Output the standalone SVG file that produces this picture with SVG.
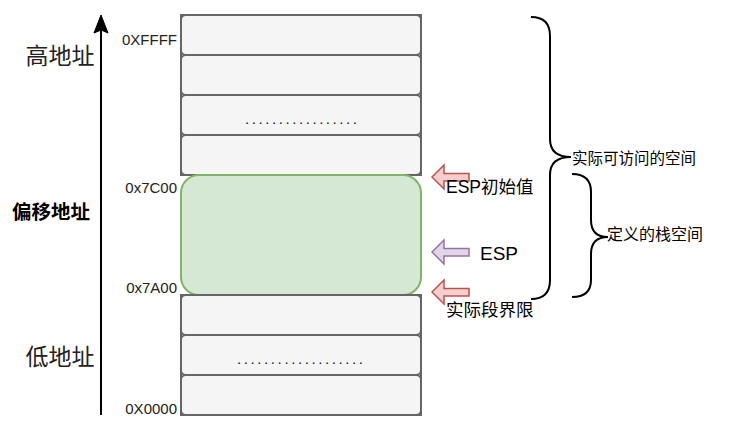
<svg xmlns="http://www.w3.org/2000/svg" width="742" height="432" viewBox="0 0 742 432">
<style>
.box{fill:#f5f5f5;stroke:#666666;stroke-width:2}
.green{fill:#d5e8d4;stroke:#82b366;stroke-width:2}
.t{font-family:"Liberation Sans","Noto Sans CJK SC",sans-serif;fill:#000}
.addr{font-size:15px;text-anchor:end;fill:#222}
.big{font-size:23px;text-anchor:middle;fill:#222}
.dots{font-size:15px;fill:#222}
.red{fill:#f8cecc;stroke:#b85450;stroke-width:1.5}
.purple{fill:#e1d5e7;stroke:#9673a6;stroke-width:1.5}
.brace{fill:none;stroke:#000;stroke-width:2}
</style>
<rect width="742" height="432" fill="#ffffff"/>

<g id="axis">
  <line x1="101" y1="415" x2="101" y2="30" stroke="#000" stroke-width="2"/>
  <polygon points="101,15 108,33 101,30 94,33" fill="#000" stroke="#000" stroke-width="1"/>
</g>

<g id="labels-left">
  <text class="t big" x="60" y="64">高地址</text>
  <text class="t" x="51" y="219" font-size="19.5" font-weight="bold" text-anchor="middle">偏移地址</text>
  <text class="t big" x="60" y="365">低地址</text>
</g>

<g id="addresses">
  <text class="t addr" x="177" y="45">0XFFFF</text>
  <text class="t addr" x="177" y="193">0x7C00</text>
  <text class="t addr" x="177" y="293">0x7A00</text>
  <text class="t addr" x="177" y="414">0X0000</text>
</g>

<g id="upper-stack">
  <rect class="box" x="181" y="15" width="240" height="160"/>
  <rect class="box" x="181" y="15" width="240" height="40" rx="5"/>
  <rect class="box" x="181" y="55" width="240" height="40" rx="5"/>
  <rect class="box" x="181" y="95" width="240" height="40" rx="5"/>
  <text class="t dots" x="245" y="124" textLength="112" lengthAdjust="spacing">.................</text>
  <rect class="box" x="181" y="135" width="240" height="40" rx="5"/>
</g>

<g id="stack-space">
  <rect class="green" x="181" y="175" width="240" height="120" rx="18"/>
</g>

<g id="lower-stack">
  <rect class="box" x="181" y="295" width="240" height="120"/>
  <rect class="box" x="181" y="295" width="240" height="40" rx="5"/>
  <rect class="box" x="181" y="335" width="240" height="40" rx="5"/>
  <text class="t dots" x="237" y="364" textLength="126" lengthAdjust="spacing">...................</text>
  <rect class="box" x="181" y="375" width="240" height="40" rx="5"/>
</g>

<g id="connectors">
  <polygon id="arrow-esp-init" class="red" points="432,177 444,165 444,173.5 469,173.5 469,181 444,181 444,189"/>
  <polygon id="arrow-esp" class="purple" points="432,252 444,240 444,248.5 469,248.5 469,256 444,256 444,264"/>
  <polygon id="arrow-limit" class="red" points="432,292 444,280 444,288.5 469,288.5 469,296 444,296 444,304"/>
  <path id="brace-big" class="brace" d="M531,17 Q550,17 550,36 L550,139 Q550,157 571,157 Q550,157 550,175 L550,280 Q550,299 531,299"/>
  <path id="brace-small" class="brace" d="M572,174 Q591,174 591,192 L591,220 Q591,237 608,237 Q591,237 591,254 L591,280 Q591,297 572,297"/>
</g>

<g id="labels-right">
  <text class="t" x="446" y="193" font-size="17.5">ESP初始值</text>
  <text class="t" x="480" y="260" font-size="19">ESP</text>
  <text class="t" x="446" y="316" font-size="17.5">实际段界限</text>
  <text class="t" x="572" y="164" font-size="15.5" fill="#222">实际可访问的空间</text>
  <text class="t" x="607" y="240" font-size="16" fill="#222">定义的栈空间</text>
</g>
</svg>
